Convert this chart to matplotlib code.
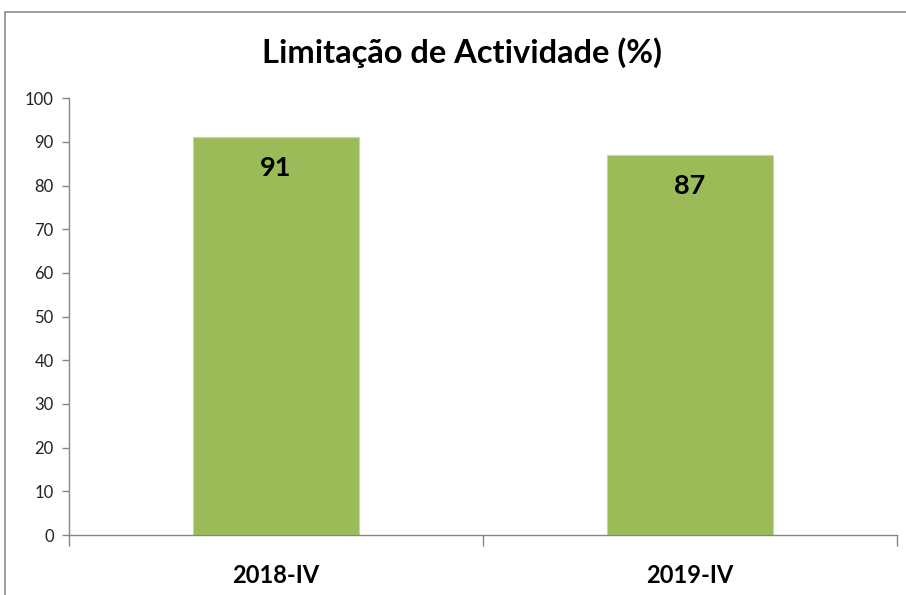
import matplotlib.pyplot as plt
from matplotlib.patches import Rectangle

# dados
categorias = ['2018-IV', '2019-IV']
valores = [91, 87]
titulo = 'Limitação de Actividade (%)'

plt.rcParams['font.family'] = ['Lato', 'DejaVu Sans']

fig = plt.figure(figsize=(9.06, 5.95), dpi=100)
ax = fig.add_axes([0.0762, 0.1008, 0.9138, 0.7342])

# moldura do grafico
fig.patches.append(Rectangle((5/906, -0.01), 1.2, 1 - 12/595 + 0.01, transform=fig.transFigure,
                             fill=False, edgecolor='#8c8c8c', linewidth=1.2))

x = range(len(categorias))
barras = ax.bar(x, valores, width=0.4, color='#9BBB59', edgecolor='#c5d9a0', linewidth=0.8)

for xi, v in zip(x, valores):
    ax.text(xi, v - 7, str(v), ha='center', va='center', fontsize=19.5, fontweight='bold', color='black')

ax.set_xlim(-0.5, 1.5)
ax.set_ylim(0, 100)
ax.set_yticks(range(0, 101, 10))
ax.set_xticks(list(x))
ax.set_xticklabels(categorias, fontsize=17, fontweight='bold')
ax.set_xticks([-0.5, 0.5, 1.5], minor=True)
ax.tick_params(axis='x', which='major', length=0, pad=21)
ax.tick_params(axis='x', which='minor', length=8, color='#868686', width=1)
ax.tick_params(axis='y', length=5, color='#868686', width=1, labelsize=12, labelcolor='#222222', pad=6)

for s in ['top', 'right']:
    ax.spines[s].set_visible(False)
for s in ['left', 'bottom']:
    ax.spines[s].set_color('#868686')
    ax.spines[s].set_linewidth(1)

fig.text(0.51, 0.911, titulo, ha='center', va='center', fontsize=23.5, fontweight='bold')

fig.savefig('out.png', dpi=100)
